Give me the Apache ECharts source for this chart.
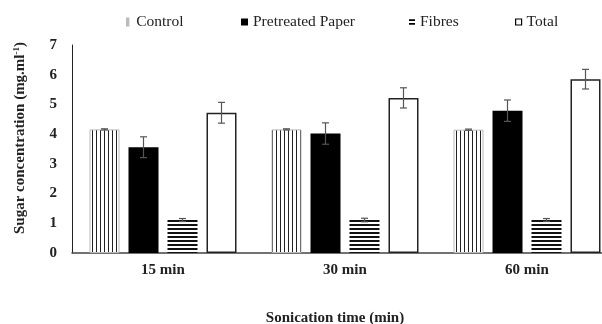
<!DOCTYPE html>
<html>
<head>
<meta charset="utf-8">
<script src="https://cdn.jsdelivr.net/npm/echarts@6/dist/echarts.min.js"></script>
<style>
html,body{margin:0;padding:0;background:#fff;overflow:hidden;}
#chart{width:602px;height:324px;}
</style>
</head>
<body>
<div id="chart"></div>
<script>
// ---- data ----
const categories = ['15 min', '30 min', '60 min'];
const seriesNames = ['Control', 'Pretreated Paper', 'Fibres', 'Total'];
const control = [4.16, 4.16, 4.15];
const controlErr = [0.02, 0.02, 0.02];
const pretreated = [3.56, 4.02, 4.79];
const pretreatedErr = [0.35, 0.36, 0.36];
const fibres = [1.11, 1.11, 1.11];
const fibresErr = [0.05, 0.06, 0.05];
const total = [4.72, 5.22, 5.85];
const totalErr = [0.35, 0.34, 0.33];
const yTicks = [0, 1, 2, 3, 4, 5, 6, 7];

// ---- styles ----
const FONT = '"Liberation Serif", "Times New Roman", serif';
const BAR_W = 30;
const BAR_GAP = 0.3;
const BAR_STEP = BAR_W * (1 + BAR_GAP);

function makePattern(w, h, draw) {
  const c = document.createElement('canvas');
  c.width = w; c.height = h;
  const ctx = c.getContext('2d');
  ctx.fillStyle = '#fff';
  ctx.fillRect(0, 0, w, h);
  draw(ctx);
  return c;
}
const vStripes = makePattern(4, 4, ctx => { ctx.fillStyle = '#222'; ctx.fillRect(0, 0, 1, 4); });
const hStripes = makePattern(4, 4, ctx => { ctx.fillStyle = '#111'; ctx.fillRect(0, 0, 4, 2); });

function errSeries(idx, vals, errs) {
  return {
    type: 'custom',
    z: 10,
    silent: true,
    data: vals.map((v, i) => [i, v, errs[i]]),
    renderItem: function (params, api) {
      const i = api.value(0), v = api.value(1), e = api.value(2);
      const hi = api.coord([i, v + e]);
      const lo = api.coord([i, v - e]);
      const x = hi[0] + (idx - 1.5) * BAR_STEP;
      const cap = 3.5;
      const st = { stroke: '#555', lineWidth: 1.2 };
      return {
        type: 'group',
        children: [
          { type: 'line', shape: { x1: x, y1: hi[1], x2: x, y2: lo[1] }, style: st },
          { type: 'line', shape: { x1: x - cap, y1: hi[1], x2: x + cap, y2: hi[1] }, style: st },
          { type: 'line', shape: { x1: x - cap, y1: lo[1], x2: x + cap, y2: lo[1] }, style: st }
        ]
      };
    }
  };
}

const legendText = { fontFamily: FONT, fontSize: 15.5, color: '#222', lineHeight: 16 };
function legendOne(name, left, icon, itemStyle, w, h) {
  return {
    data: [{ name: name, icon: icon, itemStyle: itemStyle }],
    left: left, top: 14, itemWidth: w, itemHeight: h,
    selectedMode: false, textStyle: legendText, padding: 0
  };
}

const chart = echarts.init(document.getElementById('chart'), null, { renderer: 'canvas' });
chart.setOption({
  animation: false,
  backgroundColor: '#fff',
  legend: [
    legendOne(seriesNames[0], 126, 'path://M0,0h1.6v8h-1.6z', { color: '#555' }, 7, 7),
    legendOne(seriesNames[1], 241, 'rect', { color: '#000' }, 7, 7),
    legendOne(seriesNames[2], 409, 'path://M0,0h10v3h-10zM0,6h10v3h-10z', { color: '#000' }, 6, 6),
    legendOne(seriesNames[3], 515, 'rect', { color: '#fff', borderColor: '#000', borderWidth: 1.2 }, 6, 6)
  ],
  grid: { left: 72, right: -16, top: 45, bottom: 71, containLabel: false, outerBoundsMode: 'none' },
  xAxis: {
    type: 'category',
    data: categories,
    axisLine: { lineStyle: { color: '#444', width: 1.5 } },
    axisTick: { show: false },
    axisLabel: { fontFamily: FONT, fontSize: 15, fontWeight: 'bold', color: '#222', margin: 10 },
    name: 'Sonication time (min)',
    nameLocation: 'middle',
    nameGap: 58,
    nameTextStyle: { fontFamily: FONT, fontSize: 15, fontWeight: 'bold', color: '#222', padding: [0, 20, 0, 0] }
  },
  yAxis: {
    type: 'value',
    min: yTicks[0], max: yTicks[yTicks.length - 1], interval: 1,
    splitLine: { show: false },
    axisLine: { show: true, lineStyle: { color: '#222', width: 1 } },
    axisTick: { show: false },
    axisLabel: { fontFamily: FONT, fontSize: 15, fontWeight: 'bold', color: '#222', margin: 15 },
    name: 'Sugar concentration (mg.ml{sup|-1})',
    nameLocation: 'middle',
    nameGap: 44,
    nameTextStyle: {
      fontFamily: FONT, fontSize: 15, fontWeight: 'bold', color: '#222', padding: [0, 0, 0, 22],
      rich: { sup: { fontFamily: FONT, fontSize: 9, fontWeight: 'bold', color: '#222', verticalAlign: 'top', padding: [0, 0, 7, 0] } }
    }
  },
  series: [
    { name: seriesNames[0], type: 'bar', data: control, barWidth: BAR_W, barGap: (BAR_GAP * 100) + '%',
      itemStyle: { color: { image: vStripes, repeat: 'repeat' }, borderColor: '#bbb', borderWidth: 1 } },
    { name: seriesNames[1], type: 'bar', data: pretreated, barWidth: BAR_W,
      itemStyle: { color: '#000' } },
    { name: seriesNames[2], type: 'bar', data: fibres, barWidth: BAR_W,
      itemStyle: { color: { image: hStripes, repeat: 'repeat' } } },
    { name: seriesNames[3], type: 'bar', data: total, barWidth: BAR_W,
      itemStyle: { color: '#fff', borderColor: '#222', borderWidth: 1.5 } },
    errSeries(0, control, controlErr),
    errSeries(1, pretreated, pretreatedErr),
    errSeries(2, fibres, fibresErr),
    errSeries(3, total, totalErr)
  ]
});
</script>
</body>
</html>
